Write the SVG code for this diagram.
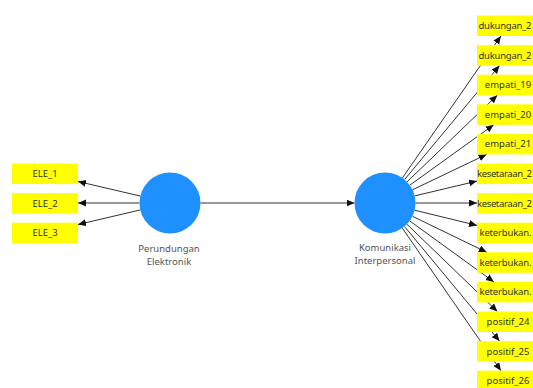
<svg xmlns="http://www.w3.org/2000/svg" width="533" height="388" viewBox="0 0 533 388">
<style>
.box{fill:#ffff00;}
.lv{fill:#1e90ff;}
.t{font-family:"Noto Sans","Liberation Sans",sans-serif;font-size:9.5px;fill:#333;}
.c{text-anchor:middle;}
.s{text-anchor:start;}
.lbl{font-family:"Noto Sans","Liberation Sans",sans-serif;font-size:9.5px;fill:#555;text-anchor:middle;}
.e{stroke:#333;stroke-width:1;fill:none;marker-end:url(#ah);}
</style>
<defs>
<marker id="ah" markerUnits="userSpaceOnUse" markerWidth="9" markerHeight="8" refX="8" refY="3.5" orient="auto">
<path d="M0,0 L8,3.5 L0,7 z" fill="#111"/>
</marker>
</defs>
<rect width="533" height="388" fill="#fff"/>
<g id="connectors">
<line class="e" x1="200.5" y1="203" x2="354.5" y2="203"/>
<line class="e" x1="140.3" y1="196.05" x2="78" y2="181.5"/>
<line class="e" x1="139.5" y1="203" x2="78" y2="203"/>
<line class="e" x1="140.3" y1="209.95" x2="78" y2="224.5"/>
<line class="e" x1="402.4" y1="177.9" x2="500.9" y2="36"/>
<line class="e" x1="404.5" y1="179.6" x2="499.5" y2="65.6"/>
<line class="e" x1="407.0" y1="181.9" x2="497.3" y2="95.2"/>
<line class="e" x1="409.8" y1="185.2" x2="493.7" y2="124.8"/>
<line class="e" x1="412.5" y1="189.8" x2="486.6" y2="154.4"/>
<line class="e" x1="414.7" y1="195.9" x2="477" y2="181.1"/>
<line class="e" x1="415.5" y1="203" x2="477" y2="203"/>
<line class="e" x1="414.6" y1="210.2" x2="477" y2="225.4"/>
<line class="e" x1="412.5" y1="216.3" x2="486.8" y2="252.3"/>
<line class="e" x1="409.7" y1="220.9" x2="493.9" y2="281.9"/>
<line class="e" x1="406.9" y1="224.2" x2="497.4" y2="311.5"/>
<line class="e" x1="404.5" y1="226.5" x2="499.5" y2="341.1"/>
<line class="e" x1="402.3" y1="228.1" x2="500.9" y2="370.7"/>
</g>
<g id="perundungan">
<circle class="lv" cx="170" cy="203" r="30.5"/>
<text class="lbl" x="169" y="251.5">Perundungan</text>
<text class="lbl" x="169" y="264.5">Elektronik</text>
</g>
<g id="komunikasi">
<circle class="lv" cx="385" cy="203" r="30.5"/>
<text class="lbl" x="385" y="251">Komunikasi</text>
<text class="lbl" x="385" y="264">Interpersonal</text>
</g>
<g id="ELE_1"><rect class="box" x="12" y="163.5" width="66" height="20.5"/><text class="t c" x="45" y="177">ELE_1</text></g>
<g id="ELE_2"><rect class="box" x="12" y="193.1" width="66" height="20.5"/><text class="t c" x="45" y="206.6">ELE_2</text></g>
<g id="ELE_3"><rect class="box" x="12" y="222.7" width="66" height="20.5"/><text class="t c" x="45" y="236.2">ELE_3</text></g>
<g id="r0"><rect class="box" x="477" y="15.5" width="62" height="20.5"/><text class="t s" x="478.5" y="29" textLength="53">dukungan_2</text></g>
<g id="r1"><rect class="box" x="477" y="45.1" width="62" height="20.5"/><text class="t s" x="478.5" y="58.6" textLength="53">dukungan_2</text></g>
<g id="r2"><rect class="box" x="477" y="74.7" width="62" height="20.5"/><text class="t c" x="508" y="88.2">empati_19</text></g>
<g id="r3"><rect class="box" x="477" y="104.3" width="62" height="20.5"/><text class="t c" x="508" y="117.8">empati_20</text></g>
<g id="r4"><rect class="box" x="477" y="133.9" width="62" height="20.5"/><text class="t c" x="508" y="147.4">empati_21</text></g>
<g id="r5"><rect class="box" x="477" y="163.5" width="62" height="20.5"/><text class="t s" x="477" y="177" textLength="55">kesetaraan_2</text></g>
<g id="r6"><rect class="box" x="477" y="193.1" width="62" height="20.5"/><text class="t s" x="477" y="206.6" textLength="55">kesetaraan_2</text></g>
<g id="r7"><rect class="box" x="477" y="222.7" width="62" height="20.5"/><text class="t s" x="479.5" y="236.2" textLength="52">keterbukan.</text></g>
<g id="r8"><rect class="box" x="477" y="252.3" width="62" height="20.5"/><text class="t s" x="479.5" y="265.8" textLength="52">keterbukan.</text></g>
<g id="r9"><rect class="box" x="477" y="281.9" width="62" height="20.5"/><text class="t s" x="479.5" y="295.4" textLength="52">keterbukan.</text></g>
<g id="r10"><rect class="box" x="477" y="311.5" width="62" height="20.5"/><text class="t c" x="508" y="325">positif_24</text></g>
<g id="r11"><rect class="box" x="477" y="341.1" width="62" height="20.5"/><text class="t c" x="508" y="354.6">positif_25</text></g>
<g id="r12"><rect class="box" x="477" y="370.7" width="62" height="20.5"/><text class="t c" x="508" y="384.2">positif_26</text></g>
</svg>
